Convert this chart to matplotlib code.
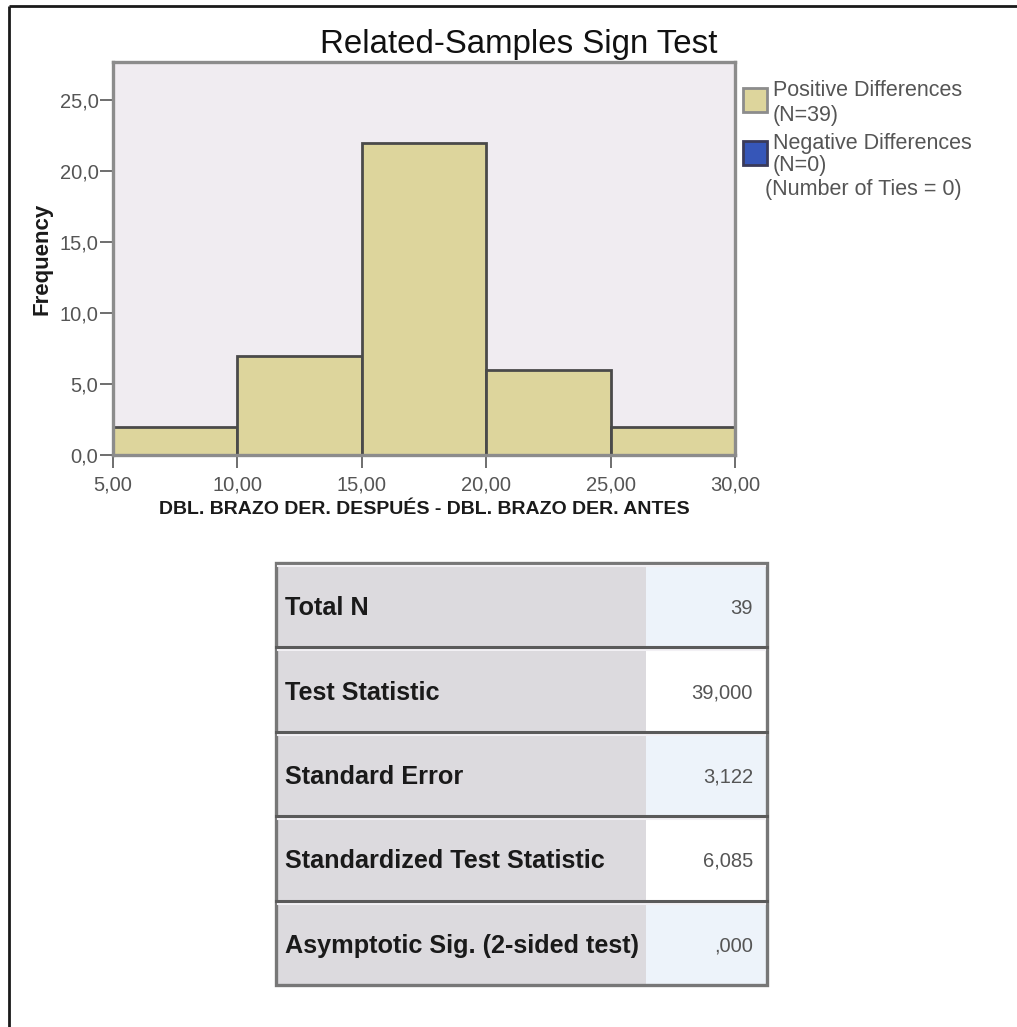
import matplotlib
matplotlib.use("Agg")
import matplotlib.pyplot as plt
from matplotlib.patches import Rectangle
from matplotlib.ticker import FixedLocator, FuncFormatter

plt.rcParams['font.family'] = ['Liberation Sans', 'DejaVu Sans']

# histogram of the paired differences
bin_edges = [5, 10, 15, 20, 25, 30]
frequencies = [2, 7, 22, 6, 2]
y_ticks = [0, 5, 10, 15, 20, 25]

n_positive = 39
n_negative = 0
n_ties = 0

# summary table
stat_labels = ["Total N", "Test Statistic", "Standard Error",
               "Standardized Test Statistic", "Asymptotic Sig. (2-sided test)"]
stat_values = ["39", "39,000", "3,122", "6,085", ",000"]

W, H = 1017, 1027
fig = plt.figure(figsize=(W / 100, H / 100), dpi=100)

# page overlay in pixel units (y down) for frame, legend and table
page = fig.add_axes([0, 0, 1, 1], zorder=0)
page.set_xlim(0, W)
page.set_ylim(H, 0)
page.axis('off')

# outer frame (only top and left edges fall inside the image)
page.plot([9, W], [6, 6], color='#1a1a1a', lw=2, solid_capstyle='butt')
page.plot([9, 9], [6, H], color='#1a1a1a', lw=2, solid_capstyle='butt')

# histogram axes
left, right, top, bottom = 113, 735, 62, 455
ax = fig.add_axes([left / W, 1 - bottom / H, (right - left) / W, (bottom - top) / H],
                  zorder=2)
ax.set_facecolor('#f0ecf1')
widths = [b - a for a, b in zip(bin_edges[:-1], bin_edges[1:])]
ax.bar(bin_edges[:-1], frequencies, width=widths, align='edge',
       color='#ddd59c', edgecolor='#4a4a4a', linewidth=2)
ax.set_xlim(bin_edges[0], bin_edges[-1])
ax.set_ylim(0, 27.7)

for s in ax.spines.values():
    s.set_color('#8c8c8c')
    s.set_linewidth(2.4)

ax.xaxis.set_major_locator(FixedLocator(bin_edges))
ax.yaxis.set_major_locator(FixedLocator(y_ticks))
ax.xaxis.set_major_formatter(FuncFormatter(lambda v, p: f"{v:.2f}".replace('.', ',')))
ax.yaxis.set_major_formatter(FuncFormatter(lambda v, p: f"{v:.1f}".replace('.', ',')))
ax.tick_params(axis='both', direction='out', length=9.5, width=1.2, color='#555555',
               labelsize=14.5, labelcolor='#555555')
ax.tick_params(axis='y', pad=1)
ax.tick_params(axis='x', pad=5)

ax.set_ylabel("Frequency", fontsize=16, fontweight='bold', color='#1a1a1a')
ax.yaxis.set_label_coords(-0.097, 0.5)
ax.set_xlabel("DBL. BRAZO DER. DESPUÉS - DBL. BRAZO DER. ANTES",
              fontsize=14, fontweight='bold', color='#1a1a1a')
ax.xaxis.set_label_coords(0.5, -0.118)

page.text(519, 44, "Related-Samples Sign Test", fontsize=23.8, color='#111111',
          ha='center', va='center')

# legend
page.add_patch(Rectangle((743, 88), 24, 24, facecolor='#ddd59c', edgecolor='#8c8c8c', lw=2))
page.add_patch(Rectangle((743, 141), 24, 24, facecolor='#3656b8', edgecolor='#3a3a5a', lw=2))
legend_lines = [
    (773, 90, "Positive Differences"),
    (773, 115, f"(N={n_positive})"),
    (773, 143, "Negative Differences"),
    (773, 166, f"(N={n_negative})"),
    (765, 190, f"(Number of Ties = {n_ties})"),
]
for x, y, txt in legend_lines:
    page.text(x, y, txt, fontsize=15.5, color='#555555', ha='left', va='center')

# summary table
tx0, tx1, tsplit = 276, 767, 646
ty0, row_h = 563, 84.4
for i, (lab, val) in enumerate(zip(stat_labels, stat_values)):
    y0 = ty0 + i * row_h
    page.add_patch(Rectangle((tx0, y0), tsplit - tx0, row_h,
                             facecolor='#dcdade', edgecolor='none'))
    page.add_patch(Rectangle((tsplit, y0), tx1 - tsplit, row_h,
                             facecolor='#edf3fa' if i % 2 == 0 else '#ffffff',
                             edgecolor='none'))
    # light highlight just under each rule
    page.plot([tx0 + 2, tx1 - 2], [y0 + 3, y0 + 3], color='#f2f0f4', lw=1.5)
    page.text(285, y0 + row_h / 2 + 3, lab, fontsize=18.2, fontweight='bold',
              color='#1a1a1a', ha='left', va='center')
    page.text(753, y0 + row_h / 2 + 3, val, fontsize=14.5, color='#555555',
              ha='right', va='center')
    if i > 0:
        page.plot([tx0, tx1], [y0, y0], color='#5a5a5a', lw=2.2)

ty1 = ty0 + len(stat_labels) * row_h
page.add_patch(Rectangle((tx0, ty0), tx1 - tx0, ty1 - ty0, facecolor='none',
                         edgecolor='#777777', lw=2.4))

fig.savefig("out.png", dpi=100)
